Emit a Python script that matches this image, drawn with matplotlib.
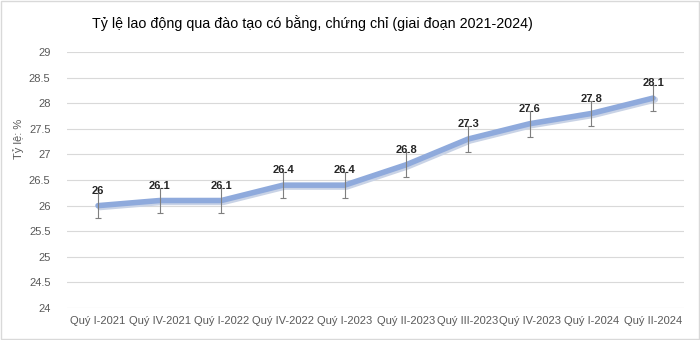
import matplotlib.pyplot as plt

plt.rcParams['font.family'] = ['Liberation Sans', 'DejaVu Sans']

quarters = ['Quý I-2021', 'Quý IV-2021', 'Quý I-2022', 'Quý IV-2022', 'Quý I-2023',
            'Quý II-2023', 'Quý III-2023', 'Quý IV-2023', 'Quý I-2024', 'Quý II-2024']
rates = [26, 26.1, 26.1, 26.4, 26.4, 26.8, 27.3, 27.6, 27.8, 28.1]
rate_labels = ['26', '26.1', '26.1', '26.4', '26.4', '26.8', '27.3', '27.6', '27.8', '28.1']
err = [0.25] * len(rates)
y_ticks = [24, 24.5, 25, 25.5, 26, 26.5, 27, 27.5, 28, 28.5, 29]

fig = plt.figure(figsize=(7, 3.4), dpi=100)
ax = fig.add_axes([0.096, 0.094, 0.881, 0.753])

x = list(range(len(quarters)))
# soft shadow under the line
ax.plot([i + 0.03 for i in x], [r - 0.03 for r in rates], color='#c9d3e6', lw=4.5,
        solid_capstyle='round', zorder=2)
ax.plot(x, rates, color='#8faadc', lw=4, solid_capstyle='round', zorder=3)
ax.errorbar(x, rates, yerr=err, fmt='none', ecolor='#7f7f7f', elinewidth=0.8,
            capsize=2.5, capthick=0.8, zorder=4)

for i, (r, lab) in enumerate(zip(rates, rate_labels)):
    ax.text(i, r + 0.19, lab, ha='center', va='bottom', fontsize=8,
            fontweight='bold', color='#262626', zorder=5)

ax.set_xlim(-0.5, len(quarters) - 0.5)
ax.set_ylim(24, 29)
ax.set_yticks(y_ticks)
ax.set_yticklabels([f'{t:g}' for t in y_ticks])
ax.set_xticks(x)
ax.set_xticklabels(quarters)
ax.tick_params(axis='both', length=0, labelsize=8, labelcolor='#595959')
ax.tick_params(axis='x', pad=6)
ax.tick_params(axis='y', pad=12)
ax.grid(axis='y', color='#d9d9d9', lw=0.8)
ax.set_axisbelow(True)
for s in ax.spines.values():
    s.set_visible(False)

ax.set_ylabel('Tỷ lệ: %', fontsize=8, color='#595959', labelpad=4)
ax.yaxis.set_label_coords(-0.07, 0.66)

fig.text(0.447, 0.933, 'Tỷ lệ lao động qua đào tạo có bằng, chứng chỉ (giai đoạn 2021-2024)',
         ha='center', va='center', fontsize=10.3, color='#000000')

fig.patches.append(plt.Rectangle((0.002, 0.004), 0.996, 0.992, transform=fig.transFigure,
                                 fill=False, edgecolor='#d9d9d9', lw=1))

fig.savefig('out.png', dpi=100)
